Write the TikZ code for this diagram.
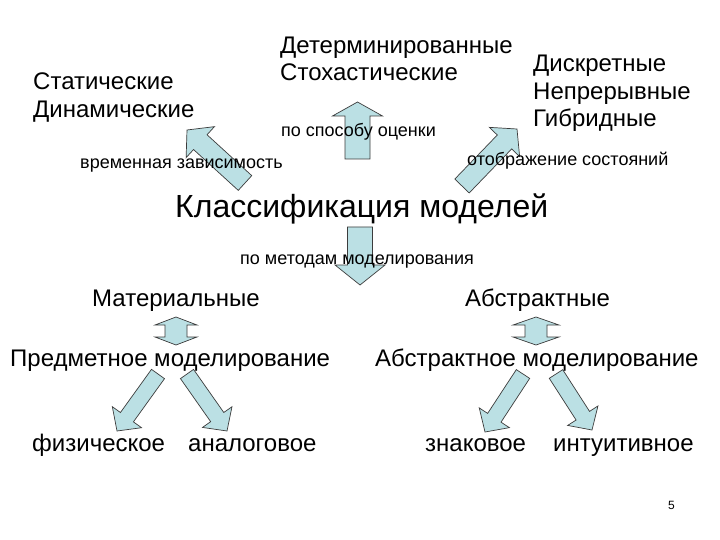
\documentclass[tikz,border=0pt]{standalone}
\usepackage{fontspec}
\setmainfont{Liberation Sans}
\usetikzlibrary{calc}
\definecolor{arrowfill}{RGB}{187,224,228}
\definecolor{arrowline}{RGB}{60,60,60}
\tikzset{
 lbl/.style={anchor=base west, inner sep=0pt, font=\fontsize{24}{28}\selectfont},
 smalllbl/.style={anchor=base west, inner sep=0pt, font=\fontsize{18}{21}\selectfont},
 titlelbl/.style={anchor=base west, inner sep=0pt, font=\fontsize{32}{38}\selectfont},
 blockarrow/.style={draw=arrowline, fill=arrowfill, line width=0.7pt, line join=miter},
}
% #1 tail, #2 tip, #3 half shaft, #4 half head, #5 head length
\newcommand\barrow[5]{%
 \draw[blockarrow] let \p1=(#1), \p2=(#2), \n1={atan2(\y2-\y1,\x2-\x1)} in
  ($(\p1)+(\n1+90:#3pt)$) -- ($(\p2)+(\n1+180:#5pt)+(\n1+90:#3pt)$)
  -- ($(\p2)+(\n1+180:#5pt)+(\n1+90:#4pt)$) -- (\p2)
  -- ($(\p2)+(\n1+180:#5pt)+(\n1-90:#4pt)$) -- ($(\p2)+(\n1+180:#5pt)+(\n1-90:#3pt)$)
  -- ($(\p1)+(\n1-90:#3pt)$) -- cycle;}
% double-headed: #1 one tip, #2 other tip
\newcommand\dblarrow[5]{%
 \draw[blockarrow] let \p1=(#1), \p2=(#2), \n1={atan2(\y2-\y1,\x2-\x1)} in
  (\p1) -- ($(\p1)+(\n1:#5pt)+(\n1+90:#4pt)$) -- ($(\p1)+(\n1:#5pt)+(\n1+90:#3pt)$)
  -- ($(\p2)+(\n1+180:#5pt)+(\n1+90:#3pt)$) -- ($(\p2)+(\n1+180:#5pt)+(\n1+90:#4pt)$)
  -- (\p2)
  -- ($(\p2)+(\n1+180:#5pt)+(\n1-90:#4pt)$) -- ($(\p2)+(\n1+180:#5pt)+(\n1-90:#3pt)$)
  -- ($(\p1)+(\n1:#5pt)+(\n1-90:#3pt)$) -- ($(\p1)+(\n1:#5pt)+(\n1-90:#4pt)$) -- cycle;}
\begin{document}
\begin{tikzpicture}[x=1pt,y=-1pt]
\useasboundingbox[fill=white] (0,0) rectangle (720,540);
% arrow endpoints
\coordinate (tmTail) at (357.5,159);  \coordinate (tmTip) at (357.5,102);
\coordinate (tlTail) at (245,183);    \coordinate (tlTip) at (187,130);
\coordinate (trTail) at (462,186);    \coordinate (trTip) at (517,129);
\coordinate (cdTail) at (360,227);    \coordinate (cdTip) at (360,285);
\coordinate (dlTop) at (176,317);     \coordinate (dlBot) at (176,345);
\coordinate (drTop) at (536,317);     \coordinate (drBot) at (536,345);
\coordinate (b1Tail) at (158,374);    \coordinate (b1Tip) at (117,431);
\coordinate (b2Tail) at (187,374);    \coordinate (b2Tip) at (227,431);
\coordinate (b3Tail) at (523,374);    \coordinate (b3Tip) at (485,432);
\coordinate (b4Tail) at (556,374);    \coordinate (b4Tip) at (592,430);
% arrows
\barrow{tmTail}{tmTip}{12.5}{25}{14}
\barrow{tlTail}{tlTip}{10}{21}{18}
\barrow{trTail}{trTip}{10}{21}{18}
\barrow{cdTail}{cdTip}{12.5}{25}{20}
\dblarrow{dlTop}{dlBot}{11}{21}{8}
\dblarrow{drTop}{drBot}{11}{23}{8}
\barrow{b1Tail}{b1Tip}{8}{18}{17}
\barrow{b2Tail}{b2Tip}{8}{18}{17}
\barrow{b3Tail}{b3Tip}{8}{18}{17}
\barrow{b4Tail}{b4Tip}{8}{18}{17}
% texts
\node[lbl] (det) at (280,54) {Детерминированные};
\node[lbl] (sto) at (280,81) {Стохастические};
\node[lbl] (dis) at (533,72) {Дискретные};
\node[lbl] (nep) at (533,100) {Непрерывные};
\node[lbl] (gib) at (533,127) {Гибридные};
\node[lbl] (sta) at (33,90) {Статические};
\node[lbl] (din) at (33,118) {Динамические};
\node[smalllbl] (spo) at (281,137) {по способу оценки};
\node[smalllbl] (vre) at (80,169) {временная зависимость};
\node[smalllbl] (oto) at (467,166) {отображение состояний};
\node[titlelbl] (kla) at (175,218) {Классификация моделей};
\node[smalllbl] (met) at (240,264) {по методам моделирования};
\node[lbl] (mat) at (92,306) {Материальные};
\node[lbl] (abs) at (465,306) {Абстрактные};
\node[lbl] (pre) at (10,366) {Предметное моделирование};
\node[lbl] (abm) at (375,366) {Абстрактное моделирование};
\node[lbl] (fiz) at (32,451) {физическое};
\node[lbl] (ana) at (188,451) {аналоговое};
\node[lbl] (zna) at (425,451) {знаковое};
\node[lbl] (int) at (553,451) {интуитивное};
\node[anchor=base west, inner sep=0pt, font=\fontsize{12}{14}\selectfont] (num) at (668,509) {5};
\end{tikzpicture}
\end{document}
